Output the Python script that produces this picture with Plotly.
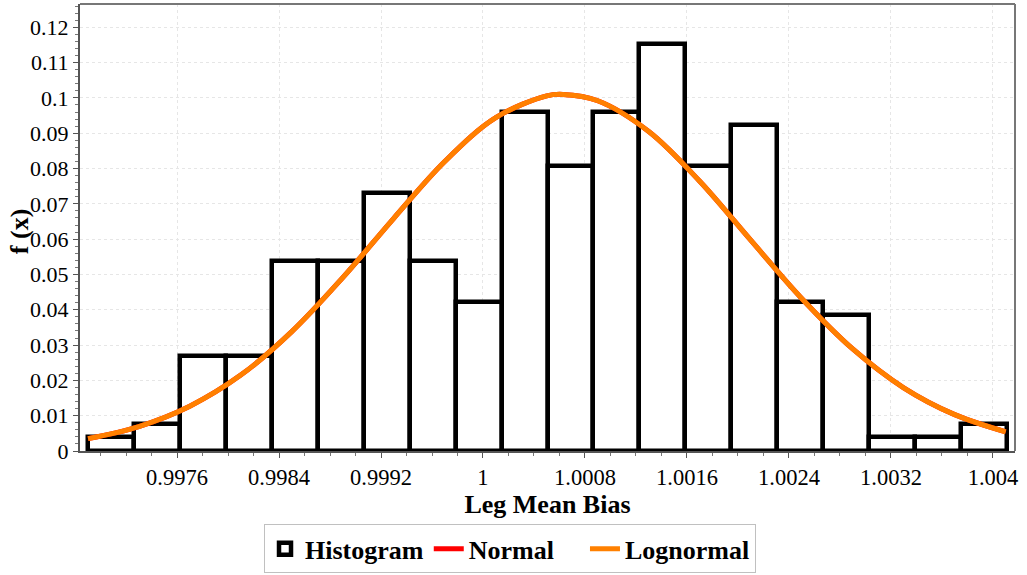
import plotly.graph_objects as go

# Histogram (relative frequency) - bin edges and heights
bin_start = 0.996902
bin_width = 0.0003604
freq = [0.00385, 0.00769, 0.02692, 0.02692, 0.05385, 0.05385, 0.07308, 0.05385,
        0.04231, 0.09615, 0.08077, 0.09615, 0.11538, 0.08077, 0.09231, 0.04231,
        0.03846, 0.00385, 0.00385, 0.00769]
centers = [bin_start + bin_width * (i + 0.5) for i in range(len(freq))]

# Fitted curves
curve_x = [0.996902, 0.9973, 0.9977, 0.9981, 0.9985, 0.9989, 0.9993, 0.9997, 1.0001,
           1.0005, 1.000627, 1.0009, 1.0013, 1.0017, 1.0021, 1.0025, 1.0029, 1.0033,
           1.0037, 1.0041]
normal_y = [0.0035, 0.00693, 0.0127, 0.0215, 0.0338, 0.0491, 0.0659, 0.0820, 0.0944,
            0.1006, 0.1010, 0.0992, 0.0905, 0.0764, 0.0597, 0.0432, 0.0289, 0.0179,
            0.0103, 0.00544]
lognormal_y = [0.0035, 0.00693, 0.0127, 0.0215, 0.0338, 0.0491, 0.0659, 0.0820, 0.0944,
               0.1006, 0.1010, 0.0992, 0.0905, 0.0764, 0.0597, 0.0432, 0.0289, 0.0179,
               0.0103, 0.00544]

x_ticks = [0.9976, 0.9984, 0.9992, 1.0, 1.0008, 1.0016, 1.0024, 1.0032, 1.004]
x_tick_labels = ["0.9976", "0.9984", "0.9992", "1", "1.0008", "1.0016", "1.0024", "1.0032", "1.004"]
y_ticks = [0, 0.01, 0.02, 0.03, 0.04, 0.05, 0.06, 0.07, 0.08, 0.09, 0.1, 0.11, 0.12]
y_tick_labels = ["0", "0.01", "0.02", "0.03", "0.04", "0.05", "0.06", "0.07", "0.08",
                 "0.09", "0.1", "0.11", "0.12"]

FONT = "Times New Roman"

fig = go.Figure()
fig.add_trace(go.Bar(
    x=centers, y=freq, width=bin_width, name="Histogram",
    marker=dict(color="white", line=dict(color="black", width=4.5)),
))
fig.add_trace(go.Scatter(
    x=curve_x, y=normal_y, mode="lines", name="Normal&nbsp;&nbsp;&nbsp;&nbsp;",
    line=dict(color="#ff0000", width=5, shape="spline"),
))
fig.add_trace(go.Scatter(
    x=curve_x, y=lognormal_y, mode="lines", name="Lognormal",
    line=dict(color="#ff8000", width=5, shape="spline"),
))

fig.update_layout(
    width=1027, height=575,
    margin=dict(l=80, r=12, t=4, b=124, autoexpand=False),
    paper_bgcolor="white", plot_bgcolor="white",
    font=dict(family=FONT, color="black", size=20),
    bargap=0,
    showlegend=True,
    legend=dict(
        orientation="h", x=0.4966, xanchor="center", xref="container",
        y=0.088, yanchor="top", yref="container",
        bordercolor="#c0c0c0", borderwidth=1,
        font=dict(family=FONT, size=26, color="black", weight="bold"),
        itemwidth=30, tracegroupgap=0,
    ),
    xaxis=dict(
        range=[0.996839, 1.004173],
        tickvals=x_ticks, ticktext=x_tick_labels,
        ticks="outside", ticklen=5, tickcolor="#555555",
        showline=True, linecolor="#555555", linewidth=2, mirror=False,
        showgrid=True, gridcolor="#e6e6e6", griddash="dot", gridwidth=1,
        minor=dict(dtick=0.0002, tick0=0.9976, ticks="outside", ticklen=3, tickcolor="#777777", showgrid=False),
        zeroline=False, automargin=False,
        tickfont=dict(family=FONT, size=22.5, color="black"),
        title=dict(text="<b>Leg Mean Bias</b>", font=dict(family=FONT, size=26, color="black"), standoff=0),
    ),
    yaxis=dict(
        range=[0, 0.1266],
        tickvals=y_ticks, ticktext=y_tick_labels,
        ticks="outside", ticklen=5, tickcolor="#555555",
        showline=True, linecolor="#555555", linewidth=2, mirror=False,
        showgrid=True, gridcolor="#e6e6e6", griddash="dot", gridwidth=1,
        minor=dict(dtick=0.002, ticks="outside", ticklen=3, tickcolor="#777777", showgrid=False),
        zeroline=False, automargin=False,
        tickfont=dict(family=FONT, size=22, color="black"),
    ),
    annotations=[dict(
        text="<b>f (x)</b>", xref="paper", yref="paper", x=-0.064, y=0.49,
        xanchor="center", yanchor="middle", textangle=-90, showarrow=False,
        font=dict(family=FONT, size=26, color="black"),
    )],
)

# Top and right frame lines (grey)
fig.add_shape(type="line", xref="paper", yref="paper", x0=0, x1=1, y0=1, y1=1,
              line=dict(color="#777777", width=2))
fig.add_shape(type="line", xref="paper", yref="paper", x0=1, x1=1, y0=0, y1=1,
              line=dict(color="#777777", width=2))

fig.write_html("out.html")
